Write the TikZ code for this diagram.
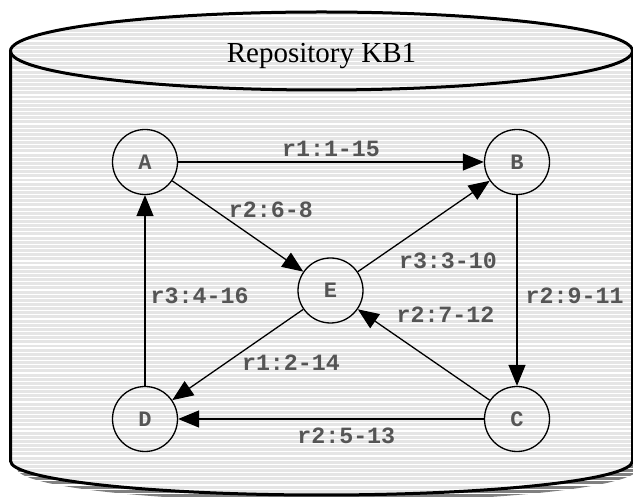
\documentclass[tikz,border=0pt]{standalone}
\usepackage{fontspec}
\setmainfont{Liberation Serif}
\setmonofont{Liberation Mono}
\usetikzlibrary{arrows.meta,positioning}
\definecolor{stripegray}{RGB}{229,229,229}
\definecolor{shadowgray}{RGB}{128,128,128}
\definecolor{labelgray}{RGB}{85,85,85}
\tikzstyle{st}=[circle,draw,line width=1.3pt,minimum size=65pt,inner sep=0pt,font=\fontsize{22}{24}\selectfont\ttfamily\bfseries,text=labelgray]
\tikzstyle{lbl}=[inner sep=1pt,font=\fontsize{23.3}{26}\selectfont\ttfamily\bfseries,text=labelgray]
\tikzstyle{arr}=[-{Triangle[length=21pt,width=17pt]},line width=1.3pt]
\tikzstyle{rim}=[line width=3pt]

\begin{document}
\begin{tikzpicture}[x=1pt,y=1pt,node distance=257pt]
\useasboundingbox (0,0) rectangle (633,498);
% repository cylinder with shadow
\fill[shadowgray] (16.5,440) -- (16.5,30) arc[start angle=180,end angle=360,x radius=311,y radius=34] -- (638.5,440) -- cycle;
\fill[stripegray] (10.5,447) -- (10.5,37) arc[start angle=180,end angle=360,x radius=311,y radius=34] -- (632.5,447) arc[start angle=0,end angle=180,x radius=311,y radius=39] -- cycle;
\foreach \y in {0.5,4.65,...,498} \draw[white,line width=1.2pt] (0,\y) -- (633,\y);
\draw[rim] (10.5,447) -- (10.5,37) arc[start angle=180,end angle=360,x radius=311,y radius=34] -- (632.5,447);
\draw[rim] (321.5,447) ellipse [x radius=311,y radius=39];
\node[font=\fontsize{29}{32}\selectfont,anchor=base] (title) at (321.5,435) {Repository KB1};
% rule graph
\node[st] (A) at (145,336) {A};
\node[st, right of=A, xshift=115pt] (B) {B};
\node[st, below of=A] (D) {D};
\node[st, below of=B] (C) {C};
\node[st] (E) at (330.5,207.5) {E};
\draw[arr] (A) -- node[lbl, above=4pt] {r1:1-15} (B);
\draw[arr] (A) -- node[lbl, pos=0.42, anchor=south west] {r2:6-8} (E);
\draw[arr] (E) -- node[lbl, pos=0.3, anchor=north west, yshift=-7pt] {r3:3-10} (B);
\draw[arr] (B) -- node[lbl, right=7pt, yshift=-5pt] {r2:9-11} (C);
\draw[arr] (C) -- node[lbl, pos=0.84, anchor=south west, xshift=16pt] {r2:7-12} (E);
\draw[arr] (E) -- node[lbl, pos=0.48, anchor=north west] {r1:2-14} (D);
\draw[arr] (C) -- node[lbl, pos=0.45, below=7pt] {r2:5-13} (D);
\draw[arr] (D) -- node[lbl, pos=0.47, right=4pt] {r3:4-16} (A);
\end{tikzpicture}
\end{document}
